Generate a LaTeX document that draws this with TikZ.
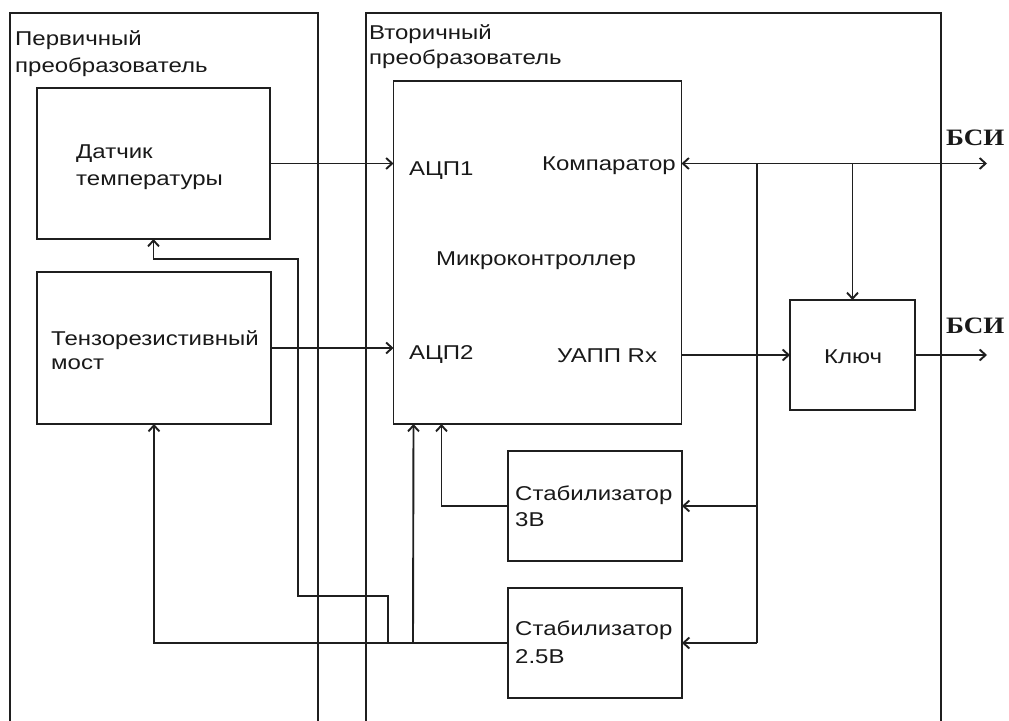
\documentclass[tikz,border=0pt]{standalone}
\usepackage{fontspec}
\setmainfont{Liberation Sans}[FakeStretch=1.2]
\newfontfamily\bsifont{Liberation Serif}[FakeStretch=1.15]
\usetikzlibrary{arrows.meta,calc}
\tikzset{
  ln/.style={line width=1.9pt, draw=black!88},
  tip/.style={},
  arr/.style={ln, -{Straight Barb[length=6pt,width=11pt,line width=1.9pt]}},
  darr/.style={ln, {Straight Barb[length=6pt,width=11pt,line width=1.9pt]}-{Straight Barb[length=6pt,width=11pt,line width=1.9pt]}},
  box/.style={ln, rectangle, inner sep=0pt, outer sep=0pt},
  lbl/.style={inner sep=0pt, anchor=base west, text=black!90, font=\fontsize{20}{26}\selectfont},
  bsi/.style={inner sep=0pt, anchor=base west, text=black!90, font=\fontsize{23.5}{26}\bsifont\bfseries}
}
\begin{document}
\begin{tikzpicture}[x=1pt,y=-1pt]
\useasboundingbox (0,0) rectangle (1009,720);
\clip (0,0) rectangle (1009,720);
% frames
\draw[ln] (10,730) -- (10,13) -- (318,13) -- (318,730);
\draw[ln] (366,730) -- (366,13) -- (941,13) -- (941,730);
% boxes
\node[box, minimum width=233pt, minimum height=151pt] (dat) at (153.5,163.5) {};
\node[box, minimum width=234pt, minimum height=152pt] (ten) at (154,348) {};
\node[box, minimum width=288pt, minimum height=343pt] (mcu) at (537.5,252.5) {};
\node[box, minimum width=174pt, minimum height=110pt] (s3) at (595,506) {};
\node[box, minimum width=174pt, minimum height=110pt] (s25) at (595,643) {};
\node[box, minimum width=125pt, minimum height=110pt] (key) at (852.5,355) {};
% labels
\node[lbl] (t1) at (15,45) {Первичный};
\node[lbl] (t2) at (15,72) {преобразователь};
\node[lbl] (t3) at (369,39) {Вторичный};
\node[lbl] (t4) at (369,64) {преобразователь};
\node[lbl] (t5) at (76,158) {Датчик};
\node[lbl] (t6) at (76,185) {температуры};
\node[lbl] (t7) at (51,345) {Тензорезистивный};
\node[lbl] (t8) at (51,369) {мост};
\node[lbl] (t9) at (409,175) {АЦП1};
\node[lbl] (t10) at (409,359) {АЦП2};
\node[lbl, anchor=base east] (t11) at (676,170) {Компаратор};
\node[lbl, anchor=base] (t12) at (536,265) {Микроконтроллер};
\node[lbl] (t13) at (557,362) {УАПП Rx};
\node[lbl, anchor=base] (t14) at (853,363) {Ключ};
\node[lbl] (t15) at (515,500) {Стабилизатор};
\node[lbl] (t16) at (515,526) {3В};
\node[lbl] (t17) at (515,635) {Стабилизатор};
\node[lbl] (t18) at (515,663) {2.5В};
\node[bsi] (b1) at (946,145) {БСИ};
\node[bsi] (b2) at (946,333) {БСИ};
% coordinates
\coordinate (bsi1) at (987,163.5);
\coordinate (bsi2) at (987,355);
\coordinate (busT) at (757,163.5);
\coordinate (bus3) at (757,506);
\coordinate (bus25) at (757,643);
\coordinate (m3) at ($(mcu.south west)+(48,0)$);
\coordinate (m25) at ($(mcu.south west)+(20,0)$);
\coordinate (j1) at (413,643);
\coordinate (j2) at (388,643);
\coordinate (c1) at (388,596);
\coordinate (c2) at (298,596);
\coordinate (c3) at (298,259);
\coordinate (c4) at (153.5,259);
% connectors
\draw[arr] (dat.east) -- (mcu.west |- dat.east);
\draw[arr] (ten.east) -- (mcu.west |- ten.east);
\draw[darr] (mcu.east |- bsi1) -- (bsi1);
\draw[arr] (key.north |- bsi1) -- (key.north);
\draw[ln] (busT) -- (bus25);
\draw[arr] (bus3) -- (s3.east);
\draw[arr] (bus25) -- (s25.east);
\draw[arr] (mcu.east |- key.west) -- (key.west);
\draw[arr] (key.east) -- (bsi2);
\draw[arr] (s3.west) -| (m3);
\draw[arr] (s25.west) -| (ten.south);
\draw[arr] (j1) -- (m25);
\draw[arr] (j2) -- (c1) -- (c2) -- (c3) -- (c4) -- (dat.south);
\end{tikzpicture}
\end{document}
